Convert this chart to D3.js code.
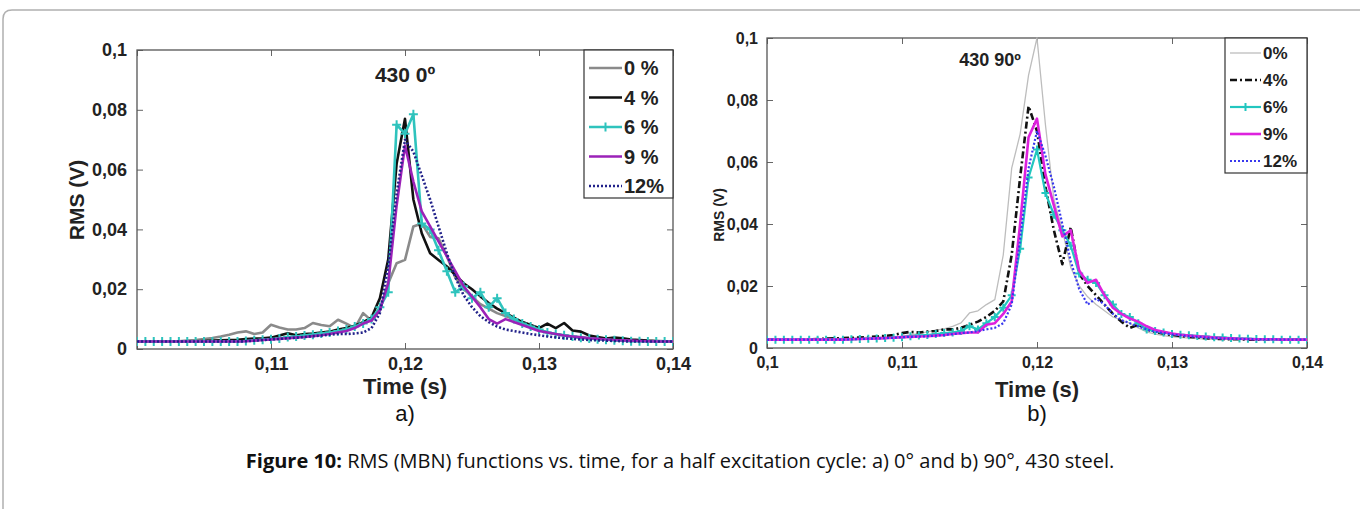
<!DOCTYPE html>
<html>
<head>
<meta charset="utf-8">
<script src="https://cdn.jsdelivr.net/npm/d3@7"></script>
<style>
  html, body { margin: 0; padding: 0; background: #fff; }
  svg { display: block; font-family: "Liberation Sans", Arial, sans-serif; }
</style>
</head>
<body>
<div id="fig"></div>
<script>
// sample grid shared by every curve (0.1 s .. 0.14 s)
const sampleCount = 65;
const sampleStep = 0.000625;
const time = d3.range(sampleCount).map(i => 0.1 + i * sampleStep);

const legendLeft = ["0 %", "4 %", "6 %", "9 %", "12%"];
const legendRight = ["0%", "4%", "6%", "9%", "12%"];
const xTicksLeft = [0.1, 0.11, 0.12, 0.13, 0.14];
const xTicksRight = [0.1, 0.11, 0.12, 0.13, 0.14];
const yTicks = [0, 0.02, 0.04, 0.06, 0.08, 0.1];

// RMS values in mV, panel a) 430 0º
const left0 = [2.5,2.5,2.5,2.5,2.5,2.6,2.8,3.0,3.3,3.7, 4.2,4.8,5.5,5.9,5.0,5.5,8.1,7.2,6.5,6.5,
  7.0,8.7,8.0,7.6,9.8,8.5,7.0,12.0,9.5,13.0, 22,28.7,29.8,41,42,37.5,37,31,24,20,
  17.6,15,13.5,12,11,10,9,8,6.5,5.5, 5,4.5,4.2,3.9,3.6,3.4,3.2,3.0,2.9,2.8, 2.7,2.6,2.5,2.5,2.5];
const left4 = [2.5,2.5,2.5,2.5,2.5,2.5,2.5,2.6,2.7,2.8, 2.9,3.0,3.1,3.3,3.5,3.6,3.8,4.5,5.3,4.6,
  5.0,5.2,5.5,5.8,6.5,7.0,7.8,9.0,10.5,17, 30,62,77,50,38.7,32,29.8,27.6,24.8,22,
  20,17.6,15.4,13.5,12,10.5,9,8,7,8.5, 7,8.7,6.2,5.8,4.5,4.0,3.5,3.8,3.6,3.2, 3.0,2.8,2.7,2.6,2.6];
const left6 = [2.5,2.5,2.5,2.5,2.5,2.5,2.5,2.5,2.5,2.5, 2.5,2.5,2.5,2.7,2.9,3.1,3.3,3.5,4.0,4.2,
  4.5,4.8,5.2,5.5,6.0,6.5,7.5,8.5,10,14, 19,75,72,78.5,42,40,33,26,19,21,
  17,19,14,17,12,10,8.5,7.5,6.5,5.5, 5.0,4.6,4.2,3.8,3.5,3.3,3.1,2.9,2.8,2.6, 2.6,2.5,2.5,2.5,2.5];
const left9 = [2.5,2.5,2.5,2.5,2.5,2.5,2.5,2.5,2.5,2.5, 2.5,2.5,2.5,2.6,2.8,3.0,3.2,3.4,3.6,3.8,
  4.0,4.3,4.6,5.0,5.5,6.0,7.0,8.5,9.5,13, 22,48,68,56,46,41,36,31,26,21,
  17.5,14,10,8.5,10,9,8,7,6,5.5, 5,4.5,4.2,3.9,3.6,3.4,3.2,3.0,2.9,2.8, 2.7,2.6,2.5,2.5,2.5];
const left12 = [2.5,2.5,2.5,2.5,2.5,2.5,2.5,2.5,2.5,2.5, 2.5,2.5,2.5,2.6,2.8,3.0,3.2,3.4,3.6,3.8,
  4.0,4.3,4.5,4.8,5.0,5.0,5.2,5.5,7,12, 28,52,70,66,58,50,41,32,24,18,
  14,11,9,7.5,6.5,6,5.5,5,4.6,4.2, 3.9,3.6,3.4,3.2,3.0,2.9,2.8,2.7,2.6,2.5, 2.5,2.5,2.5,2.5,2.5];

// RMS values in mV, panel b) 430 90º
const right0 = [2.7,2.7,2.7,2.7,2.7,2.8,2.8,2.9,3.0,3.1, 3.2,3.3,3.4,3.5,3.6,3.7,3.8,4.2,4.6,5.2,
  5.8,6.2,7.0,8.1,11.3,12,14,15.6,30,58, 69,88,100,72,48,38,26,20,16.5,14,
  12,10,9,8,6.5,5.2,4.5,4.0,3.6,3.4, 3.2,3.0,2.9,2.8,2.8,2.8,2.8,2.7,2.7,2.7, 2.7,2.7,2.7,2.7,2.7];
const right4 = [2.7,2.7,2.7,2.7,2.7,2.8,2.9,3.0,3.1,3.2, 3.3,3.4,3.5,3.7,3.9,4.2,4.8,5.2,5.0,5.3,
  5.5,6.0,6.0,6.5,7.5,8.5,10,12,15,30, 55,78,70,52,38,27,39,24,20,17,
  14,11,8.5,6.5,7.5,6,5.2,4.6,4.2,3.9, 3.6,3.4,3.2,3.0,2.9,2.8,2.8,2.7,2.7,2.7, 2.7,2.7,2.7,2.7,2.7];
const right6 = [2.7,2.7,2.7,2.7,2.7,2.7,2.7,2.7,2.7,2.7, 2.8,2.9,3.0,3.1,3.2,3.3,3.5,3.8,4.0,4.2,
  4.5,4.8,5.0,5.5,7.0,6.0,8.0,10,13,17, 32,55,64,50,43,38,33,24,22,21,
  17,14,11,10,8,6,5.5,5,4.5,4.3, 4.1,3.9,3.7,3.5,3.4,3.2,3.1,3.0,2.9,2.8, 2.8,2.7,2.7,2.7,2.7];
const right9 = [2.7,2.7,2.7,2.7,2.7,2.7,2.7,2.7,2.7,2.7, 2.8,2.9,3.0,3.1,3.2,3.3,3.5,3.6,3.7,3.8,
  4.0,4.2,4.5,4.8,5.0,5.0,7.5,8.0,11,15, 40,68,74,56,46,36,38,25,21,22,
  17,13,11,9.5,8.5,7,5.8,5.2,4.7,4.3, 4.0,3.8,3.6,3.4,3.2,3.1,3.0,2.9,2.8,2.8, 2.8,2.7,2.7,2.7,2.7];
const right12 = [2.7,2.7,2.7,2.7,2.7,2.7,2.7,2.7,2.7,2.7, 2.8,2.9,3.0,3.1,3.2,3.3,3.5,3.6,3.7,3.8,
  4.0,4.2,4.5,4.8,5.0,5.5,6.0,6.5,8.0,14, 35,58,70,62,52,40,28,19,14,16,
  14,11,9,8,7,6,5.2,4.8,4.4,4.1, 3.8,3.6,3.4,3.2,3.1,3.0,2.9,2.9,2.8,2.8, 2.8,2.7,2.7,2.7,2.7];

const width = 1360;
const height = 509;
const fmt = d => String(+d.toFixed(3)).replace(".", ",");

const svg = d3.select("#fig").append("svg")
  .attr("width", width)
  .attr("height", height)
  .attr("viewBox", `0 0 ${width} ${height}`);

// page frame with rounded top-left corner
svg.append("path")
  .attr("d", "M3,509 L3,19 Q3,10 12,10 L1360,10")
  .attr("fill", "none")
  .attr("stroke", "#b0b0b0")
  .attr("stroke-width", 1.5);

function drawPanel(cfg) {
  const x = d3.scaleLinear().domain([0.1, 0.14]).range([cfg.left, cfg.right]);
  const y = d3.scaleLinear().domain([0, 0.1]).range([cfg.bottom, cfg.top]);
  const g = svg.append("g");

  g.append("clipPath").attr("id", cfg.id + "-clip")
    .append("rect")
    .attr("x", cfg.left).attr("y", cfg.top - 1)
    .attr("width", cfg.right - cfg.left).attr("height", cfg.bottom - cfg.top + 1);

  const styleAxis = (sel, size) => {
    sel.select(".domain").remove();
    sel.selectAll(".tick line").attr("stroke", "#666").attr("stroke-width", 1);
    sel.selectAll(".tick text")
      .attr("fill", "#222")
      .attr("font-size", size)
      .attr("font-weight", "bold");
  };

  g.append("g")
    .attr("transform", `translate(0,${cfg.bottom})`)
    .call(d3.axisBottom(x).tickValues(cfg.xTicks).tickSize(-6).tickPadding(cfg.xPad)
      .tickFormat(d => (cfg.hideFirstX && d === 0.1) ? "" : fmt(d)))
    .call(s => styleAxis(s, cfg.tickFont));
  g.append("g")
    .attr("transform", `translate(0,${cfg.top})`)
    .call(d3.axisTop(x).tickValues(cfg.xTicks).tickSize(-6).tickFormat(""))
    .call(s => styleAxis(s, cfg.tickFont));
  g.append("g")
    .attr("transform", `translate(${cfg.left},0)`)
    .call(d3.axisLeft(y).tickValues(yTicks).tickSize(-6).tickPadding(cfg.yPad).tickFormat(fmt))
    .call(s => styleAxis(s, cfg.tickFont));
  g.append("g")
    .attr("transform", `translate(${cfg.right},0)`)
    .call(d3.axisRight(y).tickValues(yTicks).tickSize(-6).tickFormat(""))
    .call(s => styleAxis(s, cfg.tickFont));

  g.append("rect")
    .attr("x", cfg.left).attr("y", cfg.top)
    .attr("width", cfg.right - cfg.left).attr("height", cfg.bottom - cfg.top)
    .attr("fill", "none").attr("stroke", "#555").attr("stroke-width", 1.3);

  const line = d3.line()
    .x((d, i) => x(time[i]))
    .y(d => y(d / 1000));

  const plot = g.append("g").attr("clip-path", `url(#${cfg.id}-clip)`);
  cfg.series.forEach(s => {
    plot.append("path")
      .datum(s.values)
      .attr("fill", "none")
      .attr("stroke", s.color)
      .attr("stroke-width", s.width)
      .attr("stroke-dasharray", s.dash || null)
      .attr("stroke-linejoin", "round")
      .attr("d", line);
    if (s.marker) {
      plot.selectAll(null)
        .data(s.values)
        .enter()
        .append("path")
        .attr("d", (d, i) => {
          const cx = x(time[i]), cy = y(d / 1000), r = cfg.markerSize;
          return `M${cx - r},${cy}H${cx + r}M${cx},${cy - r}V${cy + r}`;
        })
        .attr("stroke", s.color)
        .attr("stroke-width", 2);
    }
  });

  // title inside the axes
  g.append("text")
    .attr("x", cfg.titleX).attr("y", cfg.titleY)
    .attr("text-anchor", "middle")
    .attr("font-size", cfg.titleFont).attr("font-weight", "bold").attr("fill", "#222")
    .text(cfg.title);

  // legend
  const lg = g.append("g");
  lg.append("rect")
    .attr("x", cfg.legend.x).attr("y", cfg.top)
    .attr("width", cfg.right - cfg.legend.x).attr("height", cfg.legend.h)
    .attr("fill", "#fff").attr("stroke", "#333").attr("stroke-width", 1.2);
  cfg.series.forEach((s, i) => {
    const ly = cfg.legend.y0 + i * cfg.legend.dy;
    const x0 = cfg.legend.x + 5, x1 = cfg.legend.x + cfg.legend.sample;
    lg.append("line")
      .attr("x1", x0).attr("x2", x1).attr("y1", ly).attr("y2", ly)
      .attr("stroke", s.color).attr("stroke-width", s.width)
      .attr("stroke-dasharray", s.dash || null);
    if (s.marker) {
      const mx = (x0 + x1) / 2, r = cfg.markerSize;
      lg.append("path")
        .attr("d", `M${mx - r},${ly}H${mx + r}M${mx},${ly - r}V${ly + r}`)
        .attr("stroke", s.color).attr("stroke-width", 2);
    }
    lg.append("text")
      .attr("x", x1 + 2).attr("y", ly).attr("dy", "0.36em")
      .attr("font-size", cfg.legend.font).attr("font-weight", "bold").attr("fill", "#222")
      .text(cfg.names[i]);
  });

  // axis titles
  g.append("text")
    .attr("x", (cfg.left + cfg.right) / 2).attr("y", cfg.xLabelY)
    .attr("text-anchor", "middle")
    .attr("font-size", cfg.xLabelFont).attr("font-weight", "bold").attr("fill", "#222")
    .text("Time (s)");
  g.append("text")
    .attr("transform", `translate(${cfg.yLabelX},${cfg.yLabelY}) rotate(-90)`)
    .attr("text-anchor", "middle")
    .attr("font-size", cfg.yLabelFont).attr("font-weight", "bold").attr("fill", "#222")
    .text("RMS (V)");

  g.append("text")
    .attr("x", (cfg.left + cfg.right) / 2).attr("y", cfg.panelLabelY)
    .attr("text-anchor", "middle")
    .attr("font-size", 22).attr("fill", "#111")
    .text(cfg.panelLabel);
}

drawPanel({
  id: "a", left: 137, right: 673, top: 50, bottom: 349,
  xTicks: xTicksLeft, hideFirstX: true, xPad: 8, yPad: 10, tickFont: 18,
  markerSize: 4.5,
  title: "430 0º", titleX: 405, titleY: 82, titleFont: 21,
  names: legendLeft,
  legend: { x: 584, h: 148, y0: 68, dy: 29.5, sample: 38, font: 20 },
  xLabelY: 394, xLabelFont: 22, yLabelX: 84, yLabelY: 200, yLabelFont: 21,
  panelLabel: "a)", panelLabelY: 421,
  series: [
    { values: left0, color: "#8a8a8a", width: 2.6 },
    { values: left4, color: "#111111", width: 2.6 },
    { values: left6, color: "#2fc3bd", width: 2.6, marker: true },
    { values: left9, color: "#9b22b8", width: 2.6 },
    { values: left12, color: "#22228a", width: 2.6, dash: "2,2" }
  ]
});

drawPanel({
  id: "b", left: 767, right: 1307, top: 38, bottom: 348,
  xTicks: xTicksRight, hideFirstX: false, xPad: 9, yPad: 9, tickFont: 16,
  markerSize: 4,
  title: "430 90º", titleX: 990, titleY: 66, titleFont: 18,
  names: legendRight,
  legend: { x: 1225, h: 135, y0: 53, dy: 27, sample: 36, font: 17 },
  xLabelY: 397, xLabelFont: 22, yLabelX: 724, yLabelY: 215, yLabelFont: 14,
  panelLabel: "b)", panelLabelY: 421,
  series: [
    { values: right0, color: "#bdbdbd", width: 1.3 },
    { values: right4, color: "#111111", width: 2.6, dash: "7,3,2,3" },
    { values: right6, color: "#22c6bf", width: 2.2, marker: true },
    { values: right9, color: "#dd22dd", width: 2.6 },
    { values: right12, color: "#3838ee", width: 2.2, dash: "2,2" }
  ]
});

// figure caption
const cap = svg.append("text")
  .attr("x", 680).attr("y", 468)
  .attr("text-anchor", "middle")
  .attr("font-family", "'Open Sans', sans-serif")
  .attr("font-size", 20)
  .attr("fill", "#111");
cap.append("tspan").attr("font-weight", "bold").text("Figure 10:");
cap.append("tspan").text(" RMS (MBN) functions vs. time, for a half excitation cycle: a) 0° and b) 90°, 430 steel.");
</script>
</body>
</html>
